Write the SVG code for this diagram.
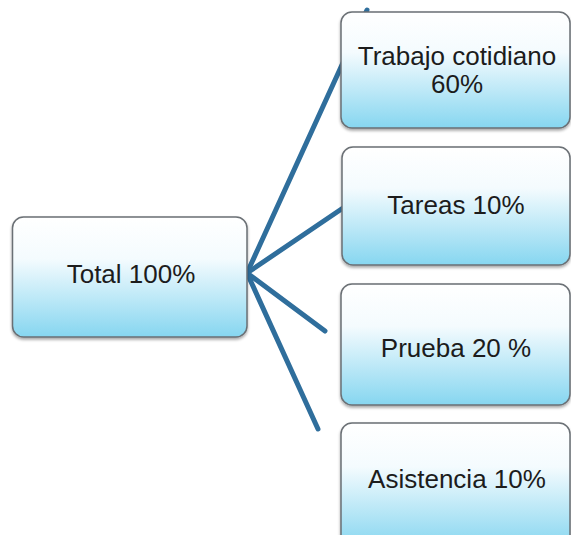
<svg xmlns="http://www.w3.org/2000/svg" width="571" height="535" viewBox="0 0 571 535">
<defs>
<linearGradient id="g" x1="0" y1="0" x2="0" y2="1">
<stop offset="0" stop-color="#ffffff"/>
<stop offset="0.35" stop-color="#f4fbfe"/>
<stop offset="1" stop-color="#86d6f0"/>
</linearGradient>
<filter id="sh" x="-10%" y="-10%" width="120%" height="130%">
<feGaussianBlur in="SourceAlpha" stdDeviation="1.5"/>
<feOffset dx="0" dy="2" result="b"/>
<feComponentTransfer><feFuncA type="linear" slope="0.35"/></feComponentTransfer>
<feMerge><feMergeNode/><feMergeNode in="SourceGraphic"/></feMerge>
</filter>
</defs>
<style>
.box{fill:url(#g);stroke:#6a6f74;stroke-width:1.5;filter:url(#sh)}
.t{font-family:"Liberation Sans",Arial,sans-serif;font-size:26px;fill:#1c1c1c;text-anchor:middle}
.c{stroke:#2f6e9c;stroke-width:5;stroke-linecap:round;fill:none}
</style>
<rect width="571" height="535" fill="#ffffff"/>
<g id="connectors">
<line class="c" x1="247" y1="273" x2="367" y2="10"/>
<line class="c" x1="247" y1="273" x2="343" y2="208"/>
<line class="c" x1="247" y1="273" x2="325" y2="331"/>
<line class="c" x1="247" y1="273" x2="318" y2="429"/>
</g>
<g id="total">
<rect class="box" x="12.5" y="217" width="234.5" height="120" rx="11"/>
<text class="t" x="131" y="283">Total 100%</text>
</g>
<g id="trabajo">
<rect class="box" x="341" y="12" width="229" height="116" rx="11"/>
<text class="t" x="457" y="65">Trabajo cotidiano</text>
<text class="t" x="457" y="93">60%</text>
</g>
<g id="tareas">
<rect class="box" x="342" y="147" width="228" height="118" rx="11"/>
<text class="t" x="456" y="214">Tareas 10%</text>
</g>
<g id="prueba">
<rect class="box" x="341" y="284" width="229" height="121" rx="11"/>
<text class="t" x="456" y="357">Prueba 20 %</text>
</g>
<g id="asistencia">
<rect class="box" x="341" y="423" width="229" height="125" rx="11"/>
<text class="t" x="457" y="488">Asistencia 10%</text>
</g>
</svg>
